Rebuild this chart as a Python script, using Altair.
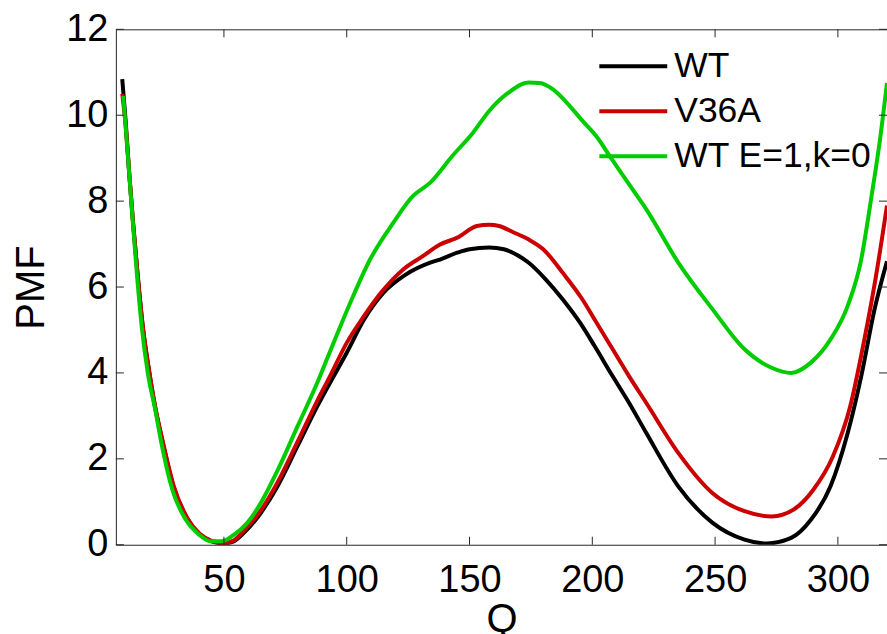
import altair as alt
import pandas as pd

# ---- data ----
series_names = ["WT", "V36A", "WT E=1,k=0"]
series_colors = ["#000000", "#cc0000", "#00cc00"]

q_wt = [8.6, 10, 11.5, 13, 15, 17, 19.5, 22, 25, 29.5, 35, 40, 45, 50, 54, 58, 65, 72, 80, 88,
        93, 100, 107, 115, 124, 134, 138, 145, 150, 158, 164, 169, 174, 181, 188, 195, 201, 208,
        215, 222, 235, 249, 262, 271, 281, 289, 297, 304, 309.5, 315, 320]
pmf_wt = [10.84, 9.85, 8.6, 7.5, 6.2, 5.05, 4.05, 3.2, 2.4, 1.35, 0.62, 0.25, 0.08, 0.03, 0.08,
          0.27, 0.74, 1.38, 2.3, 3.22, 3.75, 4.47, 5.24, 5.87, 6.29, 6.57, 6.64, 6.8, 6.88, 6.92,
          6.88, 6.76, 6.57, 6.18, 5.71, 5.17, 4.62, 3.95, 3.3, 2.6, 1.36, 0.51, 0.12, 0.03, 0.16,
          0.58, 1.36, 2.6, 3.92, 5.5, 6.6]

q_v36a = [8.6, 10, 11.5, 13, 15, 17, 19.5, 22, 25, 29.5, 35, 40, 45, 50, 54, 58, 65, 72, 80, 88,
          93, 100, 107, 114, 123, 131, 138, 145, 153, 158, 162, 168, 174, 180, 188, 196, 201, 208,
          215, 222, 235, 249, 262, 273, 282, 290, 298, 305, 310.5, 315.5, 320]
pmf_v36a = [10.5, 9.75, 8.6, 7.5, 6.2, 5.07, 4.07, 3.22, 2.43, 1.38, 0.63, 0.26, 0.09, 0.04, 0.1,
            0.32, 0.8, 1.47, 2.4, 3.35, 3.9, 4.7, 5.32, 5.87, 6.41, 6.72, 6.99, 7.15, 7.42, 7.45,
            7.42, 7.27, 7.11, 6.88, 6.33, 5.71, 5.24, 4.58, 3.92, 3.3, 2.14, 1.2, 0.78, 0.66, 0.82,
            1.28, 2.06, 3.22, 4.7, 6.25, 7.9]

q_e1 = [9, 11, 12.5, 14.5, 16.5, 19, 22, 24.5, 29, 34.5, 40, 44.5, 49, 54, 59.5, 65, 72, 80, 88,
        93, 101.5, 109.5, 119, 127, 134, 143, 151.5, 158, 166, 174, 178.5, 184, 189, 196, 201.5,
        208, 215, 222, 235, 249, 262, 273, 281, 289, 297, 304, 309.5, 313.5, 317, 320]
pmf_e1 = [10.45, 8.97, 7.8, 6.34, 5.09, 4.0, 3.15, 2.38, 1.28, 0.58, 0.23, 0.08, 0.08, 0.23, 0.51,
          0.97, 1.75, 2.76, 3.77, 4.47, 5.64, 6.64, 7.5, 8.12, 8.43, 9.05, 9.6, 10.1, 10.53, 10.76,
          10.75, 10.6, 10.33, 9.87, 9.52, 8.97, 8.39, 7.81, 6.57, 5.48, 4.55, 4.12, 4.0, 4.24, 4.78,
          5.56, 6.64, 8.04, 9.37, 10.75]

x_ticks = [50, 100, 150, 200, 250, 300]
y_ticks = [0, 2, 4, 6, 8, 10, 12]

# ---- tables ----
frames = []
for name, qs, vs in [(series_names[0], q_wt, pmf_wt),
                     (series_names[1], q_v36a, pmf_v36a),
                     (series_names[2], q_e1, pmf_e1)]:
    frames.append(pd.DataFrame({"Q": qs, "PMF": vs, "series": name}))
df = pd.concat(frames, ignore_index=True)
xt = pd.DataFrame({"Q": x_ticks})
yt = pd.DataFrame({"PMF": y_ticks})

W, H = 772, 516
FONT = "Liberation Sans"
AX = "#262626"

xscale = alt.Scale(domain=[6, 320], nice=False, zero=False)
yscale = alt.Scale(domain=[0, 12], nice=False, zero=False)

color = alt.Color(
    "series:N",
    title=None,
    scale=alt.Scale(domain=series_names, range=series_colors),
    legend=alt.Legend(
        orient="none", legendX=482, legendY=20, direction="vertical",
        symbolType="stroke", symbolSize=4624, symbolStrokeWidth=4,
        labelFont=FONT, labelFontSize=35.5, labelColor="#000000", labelLimit=500,
        labelOffset=5, rowPadding=9, clipHeight=34, padding=0,
    ),
)

base = alt.Chart(df).mark_line(strokeWidth=4, clip=True, interpolate="monotone").encode(
    x=alt.X("Q:Q", scale=xscale,
            axis=alt.Axis(values=x_ticks, ticks=False, domain=False, grid=False,
                          labelFont=FONT, labelFontSize=38, labelColor="#000000",
                          labelPadding=17, title="Q", titleFont=FONT, titleFontSize=40,
                          titleFontWeight="normal", titleColor="#000000", titlePadding=0)),
    y=alt.Y("PMF:Q", scale=yscale,
            axis=alt.Axis(values=y_ticks, ticks=False, domain=False, grid=False,
                          labelFont=FONT, labelFontSize=38, labelColor="#000000",
                          labelPadding=8, title="PMF", titleFont=FONT, titleFontSize=40,
                          titleFontWeight="normal", titleColor="#000000", titlePadding=14)),
    color=color,
)

lines = [base.transform_filter(alt.datum.series == n) for n in series_names]

tick_len = 8
bottom_t = alt.Chart(xt).mark_rule(color=AX, strokeWidth=1).encode(
    x=alt.X("Q:Q", scale=xscale), y=alt.value(H), y2=alt.value(H - tick_len))
top_t = alt.Chart(xt).mark_rule(color=AX, strokeWidth=1).encode(
    x=alt.X("Q:Q", scale=xscale), y=alt.value(0), y2=alt.value(tick_len))
left_t = alt.Chart(yt).mark_rule(color=AX, strokeWidth=1).encode(
    y=alt.Y("PMF:Q", scale=yscale), x=alt.value(0), x2=alt.value(tick_len))
right_t = alt.Chart(yt).mark_rule(color=AX, strokeWidth=1).encode(
    y=alt.Y("PMF:Q", scale=yscale), x=alt.value(W), x2=alt.value(W - tick_len))

chart = alt.layer(*lines, bottom_t, top_t, left_t, right_t).properties(
    width=W, height=H,
    padding={"left": 116, "top": 29, "right": 0, "bottom": 89},
    autosize=alt.AutoSizeParams(type="none"),
    background="#ffffff",
).configure_view(stroke=AX, strokeWidth=1)

chart.save("out.html", embed_options={"renderer": "svg", "actions": False})
